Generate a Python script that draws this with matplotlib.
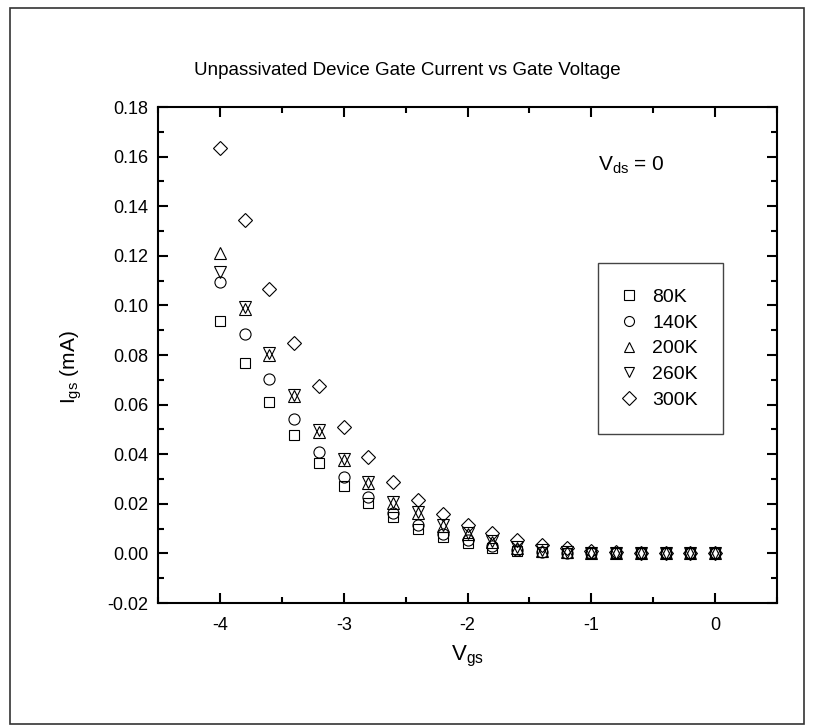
import numpy as np
import matplotlib
matplotlib.use('Agg')
import matplotlib.pyplot as plt
from matplotlib.patches import Rectangle
from matplotlib.ticker import MultipleLocator, FormatStrFormatter

plt.rcParams['font.family'] = ['Liberation Sans', 'DejaVu Sans']
plt.rcParams['mathtext.fontset'] = 'custom'
plt.rcParams['mathtext.rm'] = 'Liberation Sans'
plt.rcParams['mathtext.it'] = 'Liberation Sans'
plt.rcParams['axes.unicode_minus'] = False

# gate voltage (V)
vgs = [-4.0, -3.8, -3.6, -3.4, -3.2, -3.0, -2.8, -2.6, -2.4, -2.2, -2.0,
       -1.8, -1.6, -1.4, -1.2, -1.0, -0.8, -0.6, -0.4, -0.2, 0.0]

# gate current (mA) per temperature
i_80k = [0.0936, 0.0767, 0.0611, 0.0477, 0.0363, 0.0273, 0.0204, 0.0147, 0.0100, 0.0068, 0.0043,
         0.0022, 0.0009, 0.0004, 0.0002, 0.0001, 0.0, 0.0, 0.0, 0.0, 0.0]
i_140k = [0.1093, 0.0885, 0.0703, 0.0540, 0.0407, 0.0307, 0.0227, 0.0163, 0.0116, 0.0080, 0.0053,
          0.0030, 0.0014, 0.0006, 0.0003, 0.0001, 0.0, 0.0, 0.0, 0.0, 0.0]
i_200k = [0.1213, 0.0985, 0.0800, 0.0633, 0.0490, 0.0376, 0.0283, 0.0204, 0.0163, 0.0111, 0.0078,
          0.0047, 0.0022, 0.0011, 0.0005, 0.0002, 0.0001, 0.0, 0.0, 0.0, 0.0]
i_260k = [0.1133, 0.0992, 0.0808, 0.0640, 0.0498, 0.0382, 0.0289, 0.0209, 0.0168, 0.0114, 0.0081,
          0.0050, 0.0024, 0.0012, 0.0005, 0.0002, 0.0001, 0.0, 0.0, 0.0, 0.0]
i_300k = [0.1633, 0.1343, 0.1067, 0.0849, 0.0673, 0.0511, 0.0387, 0.0287, 0.0216, 0.0157, 0.0113,
          0.0083, 0.0053, 0.0033, 0.0020, 0.0011, 0.0006, 0.0003, 0.0001, 0.0, 0.0]

labels = ['80K', '140K', '200K', '260K', '300K']
series = [i_80k, i_140k, i_200k, i_260k, i_300k]
markers = ['s', 'o', '^', 'v', 'D']
msizes = [7.5, 8, 8.5, 8.5, 7.5]

W, H = 814, 726
fig = plt.figure(figsize=(W / 100, H / 100), dpi=100)
ax = fig.add_axes([158 / W, 1 - 603 / H, 619 / W, 496 / H])

for y, lab, m, ms in zip(series, labels, markers, msizes):
    ax.plot(vgs, y, linestyle='none', marker=m, markersize=ms,
            markerfacecolor='none', markeredgecolor='black', markeredgewidth=0.8,
            label=lab)

ax.set_xlim(-4.5, 0.5)
ax.set_ylim(-0.02, 0.18)
ax.xaxis.set_major_locator(MultipleLocator(1))
ax.xaxis.set_minor_locator(MultipleLocator(0.5))
ax.yaxis.set_major_locator(MultipleLocator(0.02))
ax.yaxis.set_minor_locator(MultipleLocator(0.01))
ax.yaxis.set_major_formatter(FormatStrFormatter('%.2f'))
ax.xaxis.set_major_formatter(FormatStrFormatter('%d'))

ax.tick_params(which='both', direction='in', top=True, right=True, width=1.5)
ax.tick_params(which='major', length=7, labelsize=13)
ax.tick_params(which='minor', length=4)
ax.tick_params(axis='x', which='major', pad=10)
ax.tick_params(axis='y', which='major', pad=7)
for s in ax.spines.values():
    s.set_linewidth(1.5)

ax.set_xlabel(r'$\mathregular{V_{gs}}$', fontsize=16, labelpad=7)
ax.set_ylabel(r'$\mathregular{I_{gs}}$ (mA)', fontsize=15)
ax.yaxis.set_label_coords((84 - 158) / 619, (603 - 367) / 496)

leg = ax.legend(loc='upper left', bbox_to_anchor=(598 / W, 1 - 263 / H),
                bbox_transform=fig.transFigure, fontsize=14, frameon=True,
                fancybox=False, edgecolor='#444444', framealpha=1,
                borderpad=1.3, labelspacing=0.42, handlelength=0.6,
                handletextpad=0.9, borderaxespad=0, markerscale=0.9)
leg.get_frame().set_linewidth(1.0)

fig.text(598 / W, 1 - 171 / H, r'$\mathregular{V_{ds}}$ = 0', fontsize=15,
         va='baseline', ha='left')
fig.text(0.5, 1 - 75 / H, 'Unpassivated Device Gate Current vs Gate Voltage',
         fontsize=13.5, ha='center', va='baseline')

fig.add_artist(Rectangle((10 / W, 1 - 724 / H), 794 / W, 716 / H,
                         transform=fig.transFigure, fill=False,
                         edgecolor='#333333', linewidth=1.2))

fig.savefig('out.png', dpi=100)
